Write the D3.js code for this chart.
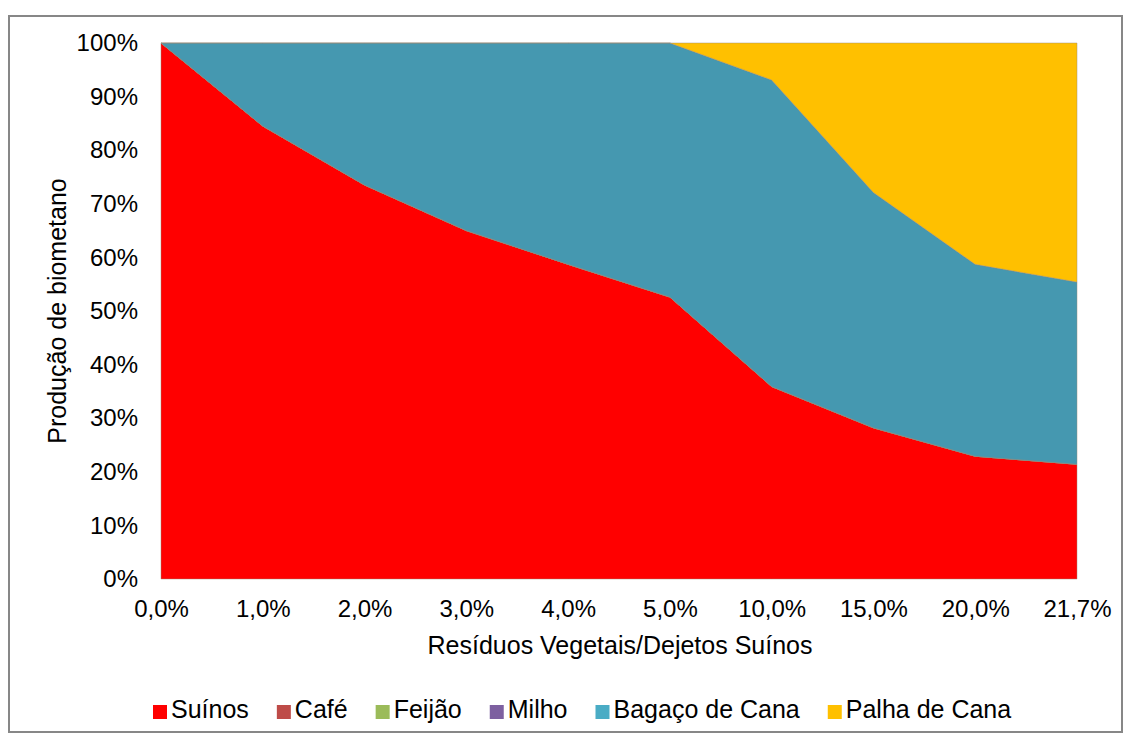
<!DOCTYPE html>
<html>
<head>
<meta charset="utf-8">
<script src="https://cdn.jsdelivr.net/npm/d3@7"></script>
<style>
  body { margin: 0; background: #fff; }
  text { font-family: "Liberation Sans", Arial, sans-serif; fill: #000; }
</style>
</head>
<body>
<div id="chart"></div>
<script>
// categories (x axis) and series, values in %
var categories = ["0,0%", "1,0%", "2,0%", "3,0%", "4,0%", "5,0%", "10,0%", "15,0%", "20,0%", "21,7%"];
var suinos = [100, 84.5, 73.5, 65, 58.7, 52.6, 35.9, 28.2, 22.9, 21.4];
var cafe   = [0, 0, 0, 0, 0, 0, 0, 0, 0, 0];
var feijao = [0, 0, 0, 0, 0, 0, 0, 0, 0, 0];
var milho  = [0, 0, 0, 0, 0, 0, 0, 0, 0, 0];
var bagaco = [0, 15.5, 26.5, 35, 41.3, 47.4, 57.2, 43.9, 35.8, 34];
var palha  = [0, 0, 0, 0, 0, 0, 6.9, 27.9, 41.3, 44.6];
var yTicks = [0, 0.1, 0.2, 0.3, 0.4, 0.5, 0.6, 0.7, 0.8, 0.9, 1];

var seriesNames = ["Suínos", "Café", "Feijão", "Milho", "Bagaço de Cana", "Palha de Cana"];
var seriesKeys = ["suinos", "cafe", "feijao", "milho", "bagaco", "palha"];
var colors = ["#ff0000", "#c0504d", "#9bbb59", "#8064a2", "#4598b0", "#ffc000"];
var legendColors = ["#ff0000", "#be4b48", "#9bbb59", "#7d60a0", "#4aacc5", "#ffc000"];

var svgWidth = 1130;
var svgHeight = 740;

var margin = { top: 43, right: 53, bottom: 161, left: 161 };
var width = svgWidth - margin.left - margin.right;
var height = svgHeight - margin.top - margin.bottom;

var svg = d3.select("#chart")
  .append("svg")
  .attr("width", svgWidth)
  .attr("height", svgHeight);

svg.append("rect")
  .attr("width", svgWidth)
  .attr("height", svgHeight)
  .attr("fill", "#fff");

// outer chart border
svg.append("rect")
  .attr("x", 9)
  .attr("y", 16)
  .attr("width", 1113)
  .attr("height", 716)
  .attr("fill", "none")
  .attr("stroke", "#878787")
  .attr("stroke-width", 2);

var chartGroup = svg.append("g")
  .attr("transform", `translate(${margin.left}, ${margin.top})`);

// build rows for the stack
var rows = categories.map(function(c, i) {
  return {
    cat: c,
    suinos: suinos[i] / 100,
    cafe: cafe[i] / 100,
    feijao: feijao[i] / 100,
    milho: milho[i] / 100,
    bagaco: bagaco[i] / 100,
    palha: palha[i] / 100
  };
});

var stacked = d3.stack()
  .keys(seriesKeys)
  .offset(d3.stackOffsetExpand)(rows);

// scales
var xScale = d3.scalePoint()
  .domain(categories)
  .range([0, width]);

var yScale = d3.scaleLinear()
  .domain([0, 1])
  .range([height, 0]);

// areas
var area = d3.area()
  .x(d => xScale(d.data.cat))
  .y0(d => yScale(d[0]))
  .y1(d => yScale(d[1]));

chartGroup.selectAll(".layer")
  .data(stacked)
  .enter()
  .append("path")
  .attr("class", "layer")
  .attr("d", area)
  .attr("fill", (d, i) => colors[i])
  .attr("stroke", "#9a8a7a")
  .attr("stroke-opacity", 0.45)
  .attr("stroke-width", 1);

// axes (labels only, no lines)
var leftAxis = d3.axisLeft(yScale)
  .tickValues(yTicks)
  .tickFormat(d3.format(".0%"))
  .tickSize(0)
  .tickPadding(23);

var bottomAxis = d3.axisBottom(xScale)
  .tickSize(0)
  .tickPadding(21);

var yAxisG = chartGroup.append("g").call(leftAxis);
var xAxisG = chartGroup.append("g")
  .attr("transform", `translate(0, ${height})`)
  .call(bottomAxis);

[yAxisG, xAxisG].forEach(function(g) {
  g.select(".domain").remove();
  g.selectAll("text")
    .style("font-family", "'Liberation Sans', Arial, sans-serif")
    .style("font-size", "24px")
    .attr("fill", "#000");
});

// axis titles
svg.append("text")
  .attr("transform", "rotate(-90)")
  .attr("x", -311)
  .attr("y", 66)
  .attr("text-anchor", "middle")
  .style("font-size", "25px")
  .text("Produção de biometano");

svg.append("text")
  .attr("x", 620)
  .attr("y", 654)
  .attr("text-anchor", "middle")
  .style("font-size", "25px")
  .text("Resíduos Vegetais/Dejetos Suínos");

// legend
var legend = svg.append("g").attr("transform", "translate(153, 718)");
var lx = 0;
seriesNames.forEach(function(name, i) {
  var item = legend.append("g").attr("transform", `translate(${lx}, 0)`);
  item.append("rect")
    .attr("x", 0)
    .attr("y", -13)
    .attr("width", 14)
    .attr("height", 14)
    .attr("fill", legendColors[i]);
  var t = item.append("text")
    .attr("x", 18)
    .attr("y", 0)
    .style("font-size", "25px")
    .text(name);
  lx += 18 + t.node().getComputedTextLength() + 28;
});
</script>
</body>
</html>
